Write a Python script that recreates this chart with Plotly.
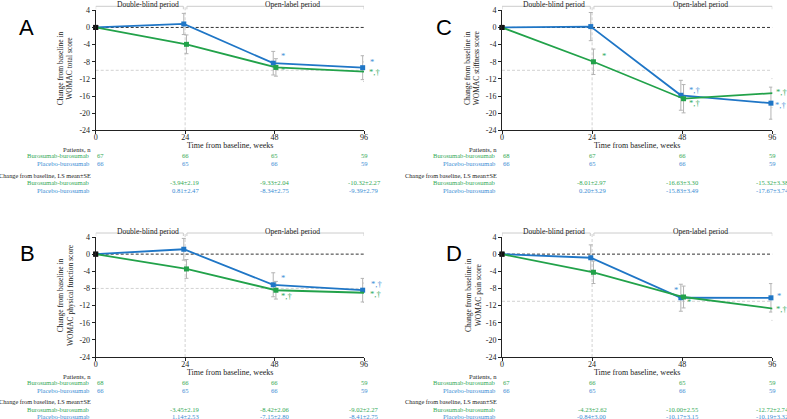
import plotly.graph_objects as go

W, H = 787, 419

# ---------------- data ----------------
weeks = ["0", "24", "48", "96"]
group_names = ["Burosumab-burosumab", "Placebo-burosumab"]
y_ticks = [4, 0, -4, -8, -12, -16, -20, -24]
panel_letters = ["A", "B", "C", "D"]
y_titles = [
    "Change from baseline in<br>WOMAC total score",
    "Change from baseline in<br>WOMAC physical function score",
    "Change from baseline in<br>WOMAC stiffness score",
    "Change from baseline in<br>WOMAC pain score",
]
period_labels = ["Double-blind period", "Open-label period"]

# Panel A - WOMAC total score
A_buro_mean = [0, -3.94, -9.33, -10.32]
A_buro_se = [0, 2.19, 2.04, 2.27]
A_plac_mean = [0, 0.81, -8.34, -9.39]
A_plac_se = [0, 2.47, 2.75, 2.79]
A_buro_n = [67, 66, 65, 59]
A_plac_n = [66, 65, 66, 59]
A_ref = -10
A_buro_sig = ["", "", "*", "*,†"]
A_plac_sig = ["", "", "*", "*"]

# Panel B - WOMAC physical function score
B_buro_mean = [0, -3.45, -8.42, -9.02]
B_buro_se = [0, 2.19, 2.06, 2.27]
B_plac_mean = [0, 1.14, -7.15, -8.41]
B_plac_se = [0, 2.53, 2.80, 2.75]
B_buro_n = [68, 66, 66, 59]
B_plac_n = [66, 65, 66, 59]
B_ref = -8
B_buro_sig = ["", "", "*,†", "*,†"]
B_plac_sig = ["", "", "*", "*,†"]

# Panel C - WOMAC stiffness score
C_buro_mean = [0, -8.01, -16.63, -15.32]
C_buro_se = [0, 2.97, 3.30, 3.38]
C_plac_mean = [0, 0.20, -15.83, -17.67]
C_plac_se = [0, 3.29, 3.49, 3.74]
C_buro_n = [68, 67, 66, 59]
C_plac_n = [66, 65, 66, 59]
C_ref = -10
C_buro_sig = ["", "*", "*,†", "*,†"]
C_plac_sig = ["", "", "*,†", "*,†"]

# Panel D - WOMAC pain score
D_buro_mean = [0, -4.23, -10.00, -12.72]
D_buro_se = [0, 2.62, 2.55, 2.74]
D_plac_mean = [0, -0.84, -10.17, -10.19]
D_plac_se = [0, 3.00, 3.15, 3.32]
D_buro_n = [67, 66, 65, 59]
D_plac_n = [66, 65, 66, 59]
D_ref = -11
D_buro_sig = ["", "", "*", "*,†"]
D_plac_sig = ["", "", "*", "*"]

panels = [
    dict(bm=A_buro_mean, bs=A_buro_se, pm=A_plac_mean, ps=A_plac_se, bn=A_buro_n, pn=A_plac_n,
         ref=A_ref, bsig=A_buro_sig, psig=A_plac_sig),
    dict(bm=B_buro_mean, bs=B_buro_se, pm=B_plac_mean, ps=B_plac_se, bn=B_buro_n, pn=B_plac_n,
         ref=B_ref, bsig=B_buro_sig, psig=B_plac_sig),
    dict(bm=C_buro_mean, bs=C_buro_se, pm=C_plac_mean, ps=C_plac_se, bn=C_buro_n, pn=C_plac_n,
         ref=C_ref, bsig=C_buro_sig, psig=C_plac_sig),
    dict(bm=D_buro_mean, bs=D_buro_se, pm=D_plac_mean, ps=D_plac_se, bn=D_buro_n, pn=D_plac_n,
         ref=D_ref, bsig=D_buro_sig, psig=D_plac_sig),
]

# ---------------- style / layout ----------------
SERIF = "Liberation Serif, Times New Roman, serif"
SANS = "Liberation Sans, Arial, sans-serif"
GREEN = "#22a24a"
BLUE = "#1f76c6"
GREEN_TXT = "#34a957"
BLUE_TXT = "#3a8dd4"
GREEN_SIG = "#2faa5e"
BLUE_SIG = "#3f90d6"
GRAY = "#b3b3b3"
TXT = "#222222"

# plot frames in pixels: left, right, top, bottom
frames = [
    (95.7, 364.0, 10.3, 130.3),
    (95.7, 364.0, 237.0, 357.0),
    (502.0, 772.3, 10.3, 130.3),
    (502.0, 772.3, 237.0, 357.0),
]
letter_pos = [(26, 27), (27, 253), (444, 27), (454, 253)]
ytitle_x = [65, 65, 472, 473]

# significance label offsets (px): (dx, dy_down) per panel/series/time index
sig_off = [
    {"p": {2: (4, -7), 3: (4, -6)}, "b": {2: (4, 3), 3: (3, 0)}},
    {"p": {2: (4, -7), 3: (5, -6)}, "b": {2: (4, 6), 3: (4, 1)}},
    {"p": {2: (5, -5), 3: (1, 2)}, "b": {1: (8, -6), 2: (5, 4), 3: (2, -1)}},
    {"p": {2: (-10, -8), 3: (3, -2)}, "b": {2: (3, 5), 3: (2, 0)}},
]
SIG_SIZE = 8.6

OFF = 0.015


def py(pix):
    return 1 - pix / H


def ann(**kw):
    kw.setdefault("showarrow", False)
    kw.setdefault("xanchor", "center")
    kw.setdefault("yanchor", "middle")
    return kw


fig = go.Figure()
shapes = []
annotations = []

for k, p in enumerate(panels):
    sfx = "" if k == 0 else str(k + 1)
    xa, ya = "x" + sfx, "y" + sfx
    L, R, T, B = frames[k]

    fig.update_layout({
        "xaxis" + sfx: dict(
            domain=[L / W, R / W], range=[0, 3], anchor=ya,
            tickvals=list(range(len(weeks))), ticktext=weeks,
            showline=True, linecolor="#222", linewidth=1,
            ticks="outside", ticklen=3, tickcolor="#222",
            showgrid=False, zeroline=False, automargin=False,
            ticklabelstandoff=-4,
            tickfont=dict(family=SERIF, size=8, color=TXT),
        ),
        "yaxis" + sfx: dict(
            domain=[py(B), py(T)], range=[-24, 4], anchor=xa,
            tickvals=y_ticks, ticktext=[str(v) for v in y_ticks],
            showline=True, linecolor="#222", linewidth=1,
            ticks="outside", ticklen=3, tickcolor="#222",
            showgrid=False, zeroline=False, automargin=False,
            tickfont=dict(family=SERIF, size=8, color=TXT),
        ),
    })

    n_idx = list(range(len(weeks)))

    # reference lines
    shapes.append(dict(type="line", xref=xa, yref=ya, x0=0, x1=3, y0=p["ref"], y1=p["ref"],
                       line=dict(color="#d2d2d2", width=1, dash="3px,2px"), layer="below"))
    shapes.append(dict(type="line", xref=xa, yref=ya, x0=0, x1=3, y0=0, y1=0,
                       line=dict(color="#333", width=1, dash="3px,2px"), layer="below"))
    shapes.append(dict(type="line", xref=xa, yref="paper", x0=1, x1=1, y0=py(B), y1=py(T - 4),
                       line=dict(color="#d2d2d2", width=1, dash="3px,2px"), layer="below"))
    # period brackets
    yb, yh = py(T - 4), py(T - 1)
    shapes.append(dict(type="path", xref=xa, yref="paper",
                       path=f"M 0,{yh} L 0,{yb} L 0.98,{yb} L 0.98,{yh}",
                       line=dict(color="#cccccc", width=1)))
    shapes.append(dict(type="path", xref=xa, yref="paper",
                       path=f"M 1.02,{yh} L 1.02,{yb} L 3,{yb} L 3,{yh}",
                       line=dict(color="#cccccc", width=1)))
    annotations.append(ann(x=0.58, y=py(T - 6), xref=xa, yref="paper", text=period_labels[0],
                           font=dict(family=SERIF, size=7.6, color=TXT)))
    annotations.append(ann(x=2.2, y=py(T - 6), xref=xa, yref="paper", text=period_labels[1],
                           font=dict(family=SERIF, size=7.6, color=TXT)))

    # series
    series = [
        ("p", p["pm"], p["ps"], p["psig"], BLUE, BLUE_SIG, -OFF, group_names[1]),
        ("b", p["bm"], p["bs"], p["bsig"], GREEN, GREEN_SIG, OFF, group_names[0]),
    ]
    for key, mean, se, sig, col, scol, off, name in series:
        xs = [i + (off if i > 0 else 0) for i in n_idx]
        fig.add_trace(go.Scatter(
            x=xs[1:], y=mean[1:], xaxis=xa, yaxis=ya, mode="markers",
            marker=dict(size=1, color="rgba(0,0,0,0)"),
            error_y=dict(type="data", array=se[1:], color=GRAY, thickness=1, width=2),
            showlegend=False, hoverinfo="skip", cliponaxis=False,
        ))
    for key, mean, se, sig, col, scol, off, name in series:
        xs = [i + (off if i > 0 else 0) for i in n_idx]
        fig.add_trace(go.Scatter(
            x=xs, y=mean, xaxis=xa, yaxis=ya, mode="lines+markers", name=name,
            line=dict(color=col, width=1.8),
            marker=dict(symbol="square", size=5, color=["#111"] + [col] * (len(mean) - 1)),
            showlegend=False, cliponaxis=False,
        ))
        for i, s in enumerate(sig):
            if s:
                dx, dy = sig_off[k][key].get(i, (4, 0))
                # anchor on the category position (kept inside the axis range)
                annotations.append(ann(
                    x=n_idx[i], y=mean[i], xref=xa, yref=ya, text=s,
                    xanchor="left", xshift=dx, yshift=-dy,
                    font=dict(family=SERIF, size=SIG_SIZE, color=scol)))

    # x axis title
    annotations.append(ann(x=1.5, y=py(B + 15.3), xref=xa, yref="paper",
                           text="Time from baseline, weeks",
                           font=dict(family=SERIF, size=8, color=TXT)))
    # y axis title
    annotations.append(ann(x=ytitle_x[k] / W, y=py((T + B) / 2 - 2), xref="paper", yref="paper",
                           text=y_titles[k], textangle=-90,
                           font=dict(family=SERIF, size=7.5, color=TXT)))
    # panel letter
    lx, ly = letter_pos[k]
    annotations.append(ann(x=lx / W, y=py(ly), xref="paper", yref="paper",
                           text=panel_letters[k],
                           font=dict(family=SANS, size=22, color="#000")))

    # table
    rows = [19.4, 25.5, 33.0, 44.7, 52.4, 59.9]
    tf = 6.6
    annotations.append(ann(x=0, y=py(B + rows[0]), xref=xa, yref="paper", text="Patients, n",
                           xanchor="right", xshift=-3,
                           font=dict(family=SERIF, size=tf, color=TXT)))
    annotations.append(ann(x=0, y=py(B + rows[3]), xref=xa, yref="paper",
                           text="Change from baseline, LS mean±SE",
                           xanchor="right", xshift=-3,
                           font=dict(family=SERIF, size=6.3, color=TXT)))
    tab = [
        (group_names[0], p["bn"], p["bm"], p["bs"], GREEN_TXT, rows[1], rows[4]),
        (group_names[1], p["pn"], p["pm"], p["ps"], BLUE_TXT, rows[2], rows[5]),
    ]
    for name, ns, ms, ss, tc, rn, rm in tab:
        for r in (rn, rm):
            annotations.append(ann(x=0, y=py(B + r), xref=xa, yref="paper", text=name,
                                   xanchor="right", xshift=-4,
                                   font=dict(family=SERIF, size=tf, color=tc)))
        for i, n in enumerate(ns):
            annotations.append(ann(x=i, y=py(B + rn), xref=xa, yref="paper", text=str(n),
                                   xanchor="left" if i == 0 else "center",
                                   xshift=-1 if i == 0 else 0,
                                   font=dict(family=SERIF, size=tf, color=tc)))
        for i in range(1, len(ms)):
            annotations.append(ann(x=i, y=py(B + rm), xref=xa, yref="paper",
                                   text=f"{ms[i]:.2f}±{ss[i]:.2f}",
                                   font=dict(family=SERIF, size=tf, color=tc)))

fig.update_layout(
    width=W, height=H,
    margin=dict(l=0, r=0, t=0, b=0, autoexpand=False),
    paper_bgcolor="white", plot_bgcolor="white",
    shapes=shapes, annotations=annotations,
    showlegend=False,
)

fig.write_html(
    "out.html",
    config={"displayModeBar": False},
    post_script="document.body.style.margin='0';document.body.style.padding='0';"
                "document.body.style.overflow='hidden';",
)
